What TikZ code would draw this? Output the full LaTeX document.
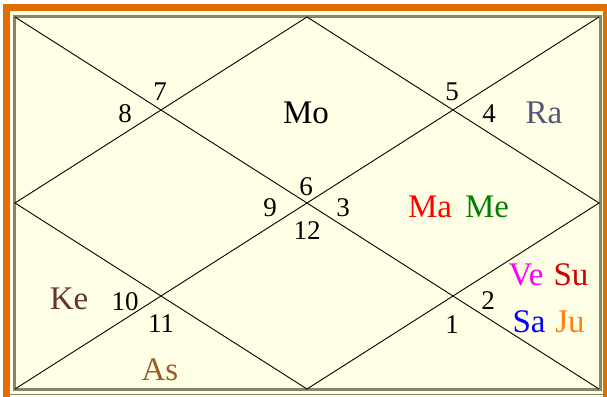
\documentclass[tikz,border=0pt]{standalone}
\usepackage{fontspec}
\setmainfont{Liberation Serif}
\usepackage{tikz}
\definecolor{chartcream}{HTML}{FFFFE6}
\definecolor{chartorange}{HTML}{DF7000}
\definecolor{chartgrey}{HTML}{84846F}
\definecolor{raucolor}{HTML}{555577}
\definecolor{macolor}{HTML}{FF0000}
\definecolor{mecolor}{HTML}{008000}
\definecolor{vecolor}{HTML}{FF00FF}
\definecolor{sucolor}{HTML}{CC0000}
\definecolor{sacolor}{HTML}{0000FF}
\definecolor{jucolor}{HTML}{FF7F10}
\definecolor{ketucolor}{HTML}{663333}
\definecolor{ascolor}{HTML}{9C5B2A}
\tikzstyle{house} = [font=\fontsize{27}{29}\selectfont, inner sep=0pt]
\tikzstyle{planet} = [font=\fontsize{33}{35}\selectfont, inner sep=0pt]
\tikzstyle{chartline} = [draw=black, line width=0.9pt]

\begin{document}
\begin{tikzpicture}[x=1pt, y=-1pt]
  \useasboundingbox (0,0) rectangle (607,396);

  % Frame
  \fill[white] (0,0) rectangle (607,396);
  \fill[chartorange] (3,4) rectangle (615,404);
  \fill[chartcream] (10,11) rectangle (603,397);
  \draw[chartgrey, line width=0.9pt] (10,394.8) -- (603,394.8);
  \draw[chartgrey, line width=3pt] (14.5,16.5) rectangle (600,389.5);

  % Chart corners and midpoints
  \coordinate (tl) at (15,17);
  \coordinate (tr) at (599,17);
  \coordinate (br) at (599,389);
  \coordinate (bl) at (15,389);
  \coordinate (tm) at (307,17);
  \coordinate (rm) at (599,203);
  \coordinate (bm) at (307,389);
  \coordinate (lm) at (15,203);

  % Diagonals
  \draw[chartline] (tl) -- (br);
  \draw[chartline] (tr) -- (bl);

  % Diamond
  \draw[chartline] (tm) -- (rm) -- (bm) -- (lm) -- cycle;

  % House numbers
  \node[house] (h7) at (160,92) {7};
  \node[house] (h8) at (125,114) {8};
  \node[house] (h5) at (452,92) {5};
  \node[house] (h4) at (489,114) {4};
  \node[house] (h6) at (306,187) {6};
  \node[house] (h9) at (270,208) {9};
  \node[house] (h3) at (343,208) {3};
  \node[house] (h12) at (307,231) {12};
  \node[house] (h10) at (125,302) {10};
  \node[house] (h11) at (161,324) {11};
  \node[house] (h2) at (488,301) {2};
  \node[house] (h1) at (452,325) {1};

  % Planets
  \node[planet] (mo) at (306,113) {Mo};
  \node[planet, raucolor] (ra) at (544,113) {Ra};
  \node[planet, macolor] (ma) at (430,207) {Ma};
  \node[planet, mecolor] (me) at (487,207) {Me};
  \node[planet, vecolor] (ve) at (526,275) {Ve};
  \node[planet, sucolor] (su) at (571,275) {Su};
  \node[planet, sacolor] (sa) at (529,322) {Sa};
  \node[planet, jucolor] (ju) at (570,322) {Ju};
  \node[planet, ketucolor] (ke) at (69,299) {Ke};
  \node[planet, ascolor] (as) at (160,370) {As};

\end{tikzpicture}
\end{document}
